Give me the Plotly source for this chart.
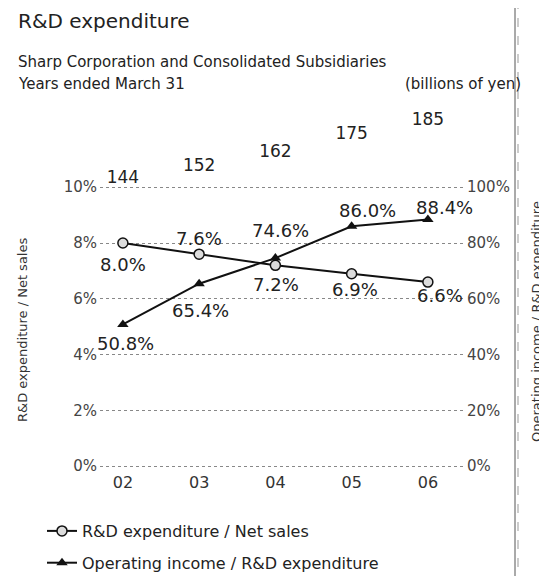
import plotly.graph_objects as go

# ---- data ----
years = ["02", "03", "04", "05", "06"]
rd_expenditure = [144, 152, 162, 175, 185]          # billions of yen
rd_to_sales = [8.0, 7.6, 7.2, 6.9, 6.6]             # %
opinc_to_rd = [50.8, 65.4, 74.6, 86.0, 88.4]        # %
left_ticks = [0, 2, 4, 6, 8, 10]
right_ticks = [0, 20, 40, 60, 80, 100]

# ---- label placement (style: pixel offsets from each point) ----
rd_sales_dx = [0, 0, 1, 3, 12]
rd_sales_dy = [-21, 16, -19, -16, -13]
opinc_dx = [3, 1, 5, 16, 17]
opinc_dy = [-19, -27, 28, 16, 12]

FONT = "DejaVu Sans"
TXT = "#222222"

# The page body has an 8px margin; layout is computed in reference pixels
OFF = 8
W, H = 547, 576
L = 100 - OFF
R = W - (466 - OFF)
T = 105 - OFF
B = 115
pw = W - L - R
ph = H - T - B
PX_PER_PCT = 27.9
bottom_pad = 0.1
top_pct = ph / PX_PER_PCT - bottom_pad
PLOT_BOTTOM_REF = H - B + OFF


def xp(px):
    return (px - 100) / pw


def yp(py):
    return (PLOT_BOTTOM_REF - py) / ph


fig = go.Figure()

fig.add_trace(go.Scatter(
    x=years, y=rd_to_sales, name="R&D expenditure / Net sales",
    mode="lines+markers",
    line=dict(color="#111111", width=2),
    marker=dict(symbol="circle", size=10, color="#dcdcdc",
                line=dict(color="#111111", width=1.5)),
    cliponaxis=False, legendgroup="a", yaxis="y",
))

fig.add_trace(go.Scatter(
    x=years, y=opinc_to_rd, name="Operating income / R&D expenditure",
    mode="lines+markers",
    line=dict(color="#111111", width=2),
    marker=dict(symbol="triangle-up", size=10, color="#111111"),
    cliponaxis=False, legendgroup="b", yaxis="y2",
))

# R&D expenditure amounts on a hidden axis
fig.add_trace(go.Scatter(
    x=years, y=rd_expenditure, mode="text",
    text=[str(v) for v in rd_expenditure], textposition="middle center",
    textfont=dict(family=FONT, size=17, color=TXT),
    cliponaxis=False, showlegend=False, yaxis="y3", hoverinfo="skip",
))

# value labels (x given as category index so "02" is not read as a number)
for i, (v, dx, dy) in enumerate(zip(rd_to_sales, rd_sales_dx, rd_sales_dy)):
    fig.add_annotation(x=i, y=v, xref="x", yref="y", text=f"{v:.1f}%",
                       showarrow=False, xshift=dx, yshift=dy,
                       xanchor="center", yanchor="middle",
                       font=dict(family=FONT, size=18, color=TXT))
for i, (v, dx, dy) in enumerate(zip(opinc_to_rd, opinc_dx, opinc_dy)):
    fig.add_annotation(x=i, y=v, xref="x", yref="y2", text=f"{v:.1f}%",
                       showarrow=False, xshift=dx, yshift=dy,
                       xanchor="center", yanchor="middle",
                       font=dict(family=FONT, size=18, color=TXT))

grid = dict(showgrid=True, gridcolor="#888888", gridwidth=1, griddash="dot")

y3_lo = -64.7
y3_per_px = 0.7179

fig.update_layout(
    width=W, height=H,
    margin=dict(l=L, r=R, t=T, b=B, autoexpand=False),
    paper_bgcolor="white", plot_bgcolor="white",
    font=dict(family=FONT, color=TXT),
    xaxis=dict(type="category", range=[-0.3, 4.5], showgrid=False,
               zeroline=False, showline=False, ticks="", ticklabelstandoff=2,
               tickfont=dict(family=FONT, size=16, color="#333333")),
    yaxis=dict(range=[-bottom_pad, top_pct], tickvals=left_ticks,
               ticktext=[f"{v}%" for v in left_ticks],
               ticks="", zeroline=False, showline=False, ticklabelstandoff=2,
               tickfont=dict(family=FONT, size=15, color="#444444"),
               **grid),
    yaxis2=dict(range=[-bottom_pad * 10, top_pct * 10], overlaying="y", side="right",
                tickvals=right_ticks, ticktext=[f"{v}%" for v in right_ticks],
                ticks="", showgrid=False, zeroline=False, showline=False,
                tickfont=dict(family=FONT, size=15, color="#444444")),
    yaxis3=dict(range=[y3_lo, y3_lo + ph * y3_per_px], overlaying="y", visible=False),
    showlegend=True,
    legend=dict(x=xp(42), y=yp(514), xanchor="left", yanchor="top",
                traceorder="grouped", tracegroupgap=8,
                font=dict(family=FONT, size=16, color=TXT),
                bgcolor="rgba(0,0,0,0)"),
)

ann = [
    ("R&D expenditure", 16, 21, 20),
    ("Sharp Corporation and Consolidated Subsidiaries", 16, 62, 15),
    ("Years ended March 31", 16, 84, 15),
    ("(billions of yen)", 403, 84, 15),
]
for text, x, y, size in ann:
    fig.add_annotation(xref="paper", yref="paper", xanchor="left", yanchor="middle",
                       showarrow=False, text=text, x=xp(x), y=yp(y),
                       font=dict(family=FONT, color=TXT, size=size))

fig.add_annotation(xref="paper", yref="paper", x=xp(22), y=yp(330), textangle=-90,
                   xanchor="center", yanchor="middle",
                   showarrow=False, text="R&D expenditure / Net sales",
                   font=dict(family=FONT, size=13, color="#333333"))
fig.add_annotation(xref="paper", yref="paper", x=xp(536), y=yp(322), textangle=-90,
                   xanchor="center", yanchor="middle",
                   showarrow=False, text="Operating income / R&D expenditure",
                   font=dict(family=FONT, size=13, color="#333333"))

# scanned page-edge lines
fig.add_shape(type="line", xref="paper", yref="paper", x0=xp(515), x1=xp(515),
              y0=yp(0), y1=yp(H), line=dict(color="#555555", width=1))
fig.add_shape(type="line", xref="paper", yref="paper", x0=xp(518), x1=xp(518),
              y0=yp(0), y1=yp(H), line=dict(color="#999999", width=1, dash="dash"))

fig.write_html("out.html")
